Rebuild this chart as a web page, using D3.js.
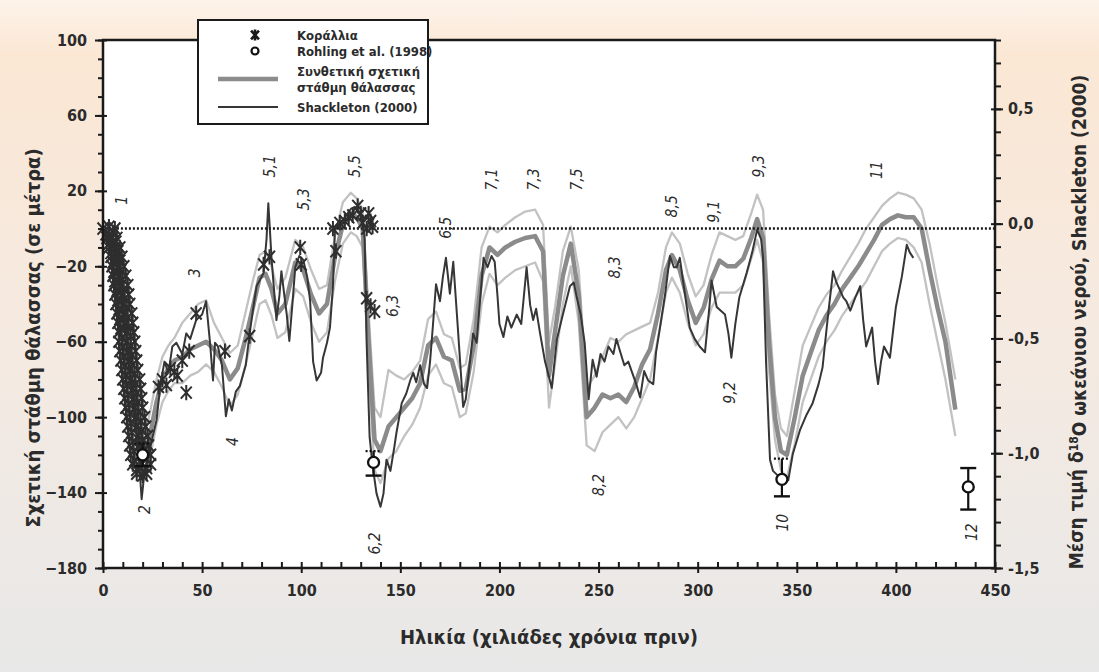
<!DOCTYPE html>
<html>
<head>
<meta charset="utf-8">
<script src="https://cdn.jsdelivr.net/npm/d3@7"></script>
<style>
  html, body { margin: 0; padding: 0; }
  body { width: 1099px; height: 672px; overflow: hidden; }
  text { font-family: "Liberation Sans Narrow", "DejaVu Sans Condensed", sans-serif; fill: #2b2b2b; }
</style>
</head>
<body>
<svg id="chart" width="1099" height="672"></svg>
<script>
// Synthetic relative sea level (m), with its upper / lower envelope
const synAge = [0, 3, 6, 9, 12, 15, 18, 20, 22, 24,
  27, 30, 33, 36, 40, 44, 48, 52, 56, 60,
  64, 68, 72, 76, 79, 82, 85, 88, 92, 97,
  101, 105, 109, 113, 117, 121, 125, 128, 131, 134,
  137, 140, 144, 148, 152, 156, 160, 164, 168, 172,
  176, 180, 183, 187, 191, 195, 199, 203, 208, 213,
  218, 222, 225, 228, 232, 236, 240, 244, 248, 252,
  256, 260, 264, 268, 272, 276, 280, 284, 287, 291,
  295, 299, 303, 307, 311, 315, 319, 323, 327, 330,
  333, 336, 339, 342, 345, 349, 353, 357, 361, 365,
  369, 373, 377, 381, 385, 389, 393, 397, 401, 405,
  409, 413, 417, 421, 425, 430];
const synMid = [0, -2, -10, -30, -58, -88, -112, -120, -118, -108,
  -92, -80, -74, -70, -68, -64, -62, -60, -64, -70,
  -80, -74, -58, -40, -26, -24, -32, -45, -40, -18,
  -22, -35, -45, -40, -15, 2, 8, 6, 0, -60,
  -112, -118, -105, -100, -95, -90, -82, -62, -58, -68,
  -70, -86, -85, -62, -25, -10, -14, -10, -7, -5,
  -4, -12, -78, -55, -25, -8, -35, -100, -95, -88,
  -90, -88, -92, -84, -72, -64, -45, -22, -14, -22,
  -38, -50, -42, -27, -17, -20, -20, -16, -5, 5,
  -5, -60, -100, -118, -120, -100, -78, -66, -54, -46,
  -40, -32, -26, -20, -13, -6, 2, 5, 7, 6,
  6, 0, -22, -42, -60, -96];
const synHi = [3, 2, -4, -22, -48, -78, -102, -108, -106, -96,
  -80, -68, -62, -58, -50, -45, -40, -38, -50, -58,
  -66, -62, -44, -26, -14, -12, -20, -32, -26, -6,
  -10, -22, -32, -30, -4, 14, 19, 16, 10, -45,
  -95, -100, -75, -78, -80, -76, -70, -48, -44, -56,
  -58, -74, -72, -48, -10, 1, -2, 2, 6, 9,
  10, 2, -60, -42, -12, 1, -22, -85, -78, -68,
  -58, -60, -56, -54, -52, -50, -34, -10, -2, -8,
  -24, -36, -30, -14, -2, -4, -6, -4, 8, 18,
  10, -45, -88, -106, -110, -86, -62, -52, -42, -35,
  -30, -22, -15, -8, 0, 6, 12, 16, 19, 18,
  16, 10, -8, -30, -50, -80];
const synLo = [-3, -6, -16, -38, -68, -98, -122, -130, -130, -120,
  -104, -92, -86, -82, -82, -78, -76, -72, -76, -84,
  -94, -88, -72, -54, -40, -38, -46, -58, -55, -32,
  -36, -50, -60, -55, -28, -8, -2, -4, -10, -75,
  -128, -135, -122, -118, -110, -104, -95, -78, -72, -82,
  -84, -100, -98, -76, -40, -24, -30, -26, -22, -20,
  -18, -28, -95, -72, -40, -20, -50, -115, -118, -108,
  -104, -100, -106, -100, -90, -80, -58, -34, -26, -34,
  -50, -62, -56, -42, -34, -34, -34, -30, -16, -6,
  -18, -75, -112, -128, -132, -114, -92, -80, -68, -60,
  -54, -46, -40, -34, -28, -20, -12, -8, -5, -6,
  -10, -18, -40, -60, -80, -110];

// Shackleton (2000): [age ka, mean ocean-water δ18O ‰]
const shackleton = [[0,-0.026],[2,-0.042],[5,-0.067],[8,-0.190],[10,-0.355],[12,-0.519],[14,-0.683],[16,-0.847],[18,-1.012],[19.5,-1.200],
  [21,-1.077],[23,-1.012],[25,-0.929],[27,-0.856],[29,-0.699],[31,-0.601],[33,-0.650],[35,-0.535],[37,-0.519],[40,-0.568],
  [42,-0.478],[44,-0.502],[47,-0.420],[50,-0.396],[52,-0.338],[54,-0.519],[55.5,-0.683],[56.5,-0.519],[58,-0.535],[60,-0.617],
  [62,-0.839],[63.5,-0.765],[65,-0.814],[67,-0.732],[69,-0.708],[72,-0.617],[74,-0.478],[76,-0.355],[77.5,-0.272],[79.5,-0.240],
  [81,-0.215],[82.5,-0.067],[83.4,0.089],[84.3,-0.042],[85,-0.149],[87.5,-0.420],[89,-0.313],[90,-0.207],[91.5,-0.313],[92.7,-0.396],
  [94,-0.511],[95.5,-0.355],[97,-0.190],[99,-0.141],[101,-0.157],[103,-0.231],[104.5,-0.338],[106,-0.601],[107.8,-0.683],[110,-0.650],
  [111,-0.584],[113,-0.519],[114.5,-0.453],[116,-0.272],[117,-0.026],[119,-0.010],[121,0.015],[123,0.040],[125,0.064],[127,0.073],
  [129,0.048],[131,0.015],[132,-0.067],[133,-0.519],[134.5,-0.929],[136,-1.053],[138,-1.176],[140,-1.233],[141.5,-1.176],[143,-1.028],
  [145,-1.077],[147,-0.971],[148,-0.913],[150.7,-0.782],[153,-0.740],[155,-0.683],[156.5,-0.650],[158,-0.691],[160,-0.617],[162,-0.699],
  [163.5,-0.716],[165,-0.601],[166.5,-0.437],[168,-0.264],[170,-0.338],[171.5,-0.231],[173,-0.149],[175,-0.305],[176.7,-0.166],[179,-0.453],
  [181.7,-0.798],[183,-0.765],[184.5,-0.650],[186.7,-0.478],[188.5,-0.519],[190,-0.355],[192,-0.149],[194,-0.190],[196,-0.141],[197.6,-0.166],
  [199,-0.313],[200,-0.437],[202,-0.494],[204,-0.404],[206,-0.453],[208.7,-0.396],[211,-0.437],[213.7,-0.190],[215.5,-0.355],[217,-0.420],
  [218.5,-0.371],[220.5,-0.478],[223,-0.601],[226.4,-0.716],[229,-0.502],[232,-0.396],[235.6,-0.272],[237.5,-0.256],[239,-0.322],[241,-0.396],
  [243,-0.519],[245,-0.765],[247,-0.593],[249,-0.667],[251,-0.568],[253,-0.601],[255,-0.535],[257.5,-0.568],[259,-0.502],[261,-0.560],
  [263,-0.617],[265,-0.601],[267,-0.650],[269,-0.699],[271,-0.757],[273,-0.642],[275,-0.683],[277.6,-0.699],[279,-0.560],[281,-0.453],
  [283.5,-0.313],[286,-0.141],[288,-0.190],[289.4,-0.190],[291,-0.149],[293,-0.272],[296,-0.453],[298.5,-0.502],[301,-0.535],[303.7,-0.560],
  [306,-0.355],[307,-0.248],[309.6,-0.363],[313.8,-0.396],[315.5,-0.478],[317,-0.584],[319,-0.437],[321,-0.322],[324.7,-0.215],[327.5,-0.125],
  [330,-0.026],[332,-0.067],[333,-0.149],[334.5,-0.601],[336.5,-1.028],[338,-1.077],[341,-1.102],[343,-1.118],[345.7,-1.118],[348,-1.003],
  [350,-0.946],[351.7,-0.897],[355,-0.831],[358,-0.782],[361,-0.699],[363,-0.626],[365.5,-0.420],[368.3,-0.207],[370,-0.256],[373.5,-0.322],
  [375,-0.338],[377,-0.379],[379.5,-0.322],[382,-0.272],[383.5,-0.420],[385,-0.535],[388,-0.453],[389.5,-0.601],[391,-0.699],[392.5,-0.601],
  [394,-0.535],[397,-0.584],[400,-0.363],[403,-0.231],[405.5,-0.092],[407,-0.125],[408.8,-0.149]];

// Coral dates: [age ka, level m]
const corals = [[0,0],[3,1],[6,0],[1.5,-3],[5,-2],[2,-5],[4.5,-5],[7,-5],[3,-8],[6.5,-7],
  [3,-10],[6,-10],[8.5,-10],[4,-13],[7.5,-12],[4,-15],[7,-15],[9.5,-15],[5,-18],[8.5,-17],
  [4.5,-20],[7.5,-20],[10.5,-20],[5.5,-23],[9,-22],[5,-25],[8,-25],[11.5,-25],[6,-28],[10,-27],
  [5.5,-30],[9,-30],[12.5,-30],[7,-33],[10.5,-32],[6,-35],[9.5,-35],[13,-35],[7.5,-38],[11,-37],
  [6.5,-40],[10,-40],[13.5,-40],[8,-43],[12,-42],[7,-45],[10.5,-45],[14.5,-45],[8.5,-48],[12.5,-47],
  [7.5,-50],[11,-50],[15,-50],[9,-53],[13,-52],[8,-55],[12,-55],[15.5,-55],[9.5,-58],[14,-57],
  [8,-60],[12,-60],[16,-60],[10,-63],[14,-62],[8.5,-65],[12.5,-65],[16.5,-65],[10.5,-68],[14.5,-67],
  [9,-70],[13,-70],[17,-70],[11,-73],[15,-72],[9.5,-75],[13.5,-75],[17.5,-75],[11.5,-78],[16,-77],
  [10,-80],[14,-80],[18.5,-80],[12,-83],[16.5,-82],[10.5,-85],[15,-85],[19,-85],[12.5,-88],[17,-87],
  [11,-90],[15.5,-90],[19.5,-90],[13,-93],[17.5,-92],[11.5,-95],[16,-95],[20,-95],[13.5,-98],[18,-97],
  [12,-100],[16.5,-100],[21,-100],[14,-103],[19,-102],[12.5,-105],[17,-105],[21.5,-105],[14.5,-108],[19.5,-107],
  [13,-110],[18,-110],[22.5,-110],[15,-113],[20,-112],[13.5,-115],[18.5,-115],[23,-115],[15.5,-118],[21,-117],
  [14,-120],[19,-120],[24,-120],[16,-123],[22,-122],[15,-125],[19.5,-125],[24,-125],[17,-128],[22,-127],
  [17,-130],[20,-131],[22,-130],
  [28,-84],[30,-80],[32,-83],[34,-74],[36,-76],[37.5,-78],[40,-70],[42,-87],[43.5,-65],[47,-45],
  [61.5,-65],[74,-57],[81,-19],[84,-15],[99.5,-10],[100,-19],[116,0],[117.5,-12],[119.5,3],[122,4],
  [124,6],[126,7],[128.5,12],[130,8],[131,3],[133,0],[134,8],[135,4],[136,1],[133,-37],[135,-41],[137,-44]];

// Rohling et al. (1998) lowstands with error bars
const rohlingAge = [20, 136.5, 342.5, 436.5];
const rohlingLevel = [-120, -124, -133, -137];
const rohlingLow = [-126, -131, -142, -149];
const rohlingHigh = [-114, -118, -122, -127];

// Marine isotope stage annotations
const stageText = ["1", "2", "3", "4", "5,1", "5,3", "5,5", "6,2", "6,3", "6,5", "7,1", "7,3", "7,5",
  "8,2", "8,3", "8,5", "9,1", "9,2", "9,3", "10", "11", "12"];
const stageAge = [9.4, 21, 46.4, 65.6, 84, 101, 127, 137, 146, 172.6, 196, 217, 239,
  250, 258, 287, 308, 316, 330.6, 343, 390, 438];
const stageLevel = [15, -149, -23.5, -113, 33, 15.4, 33, -167, -41, 0.5, 26, 26, 26,
  -136, -20.6, 11.8, 9, -87, 33, -156, 31, -161];

const leftTicks = [100, 60, 20, -20, -60, -100, -140, -180];
const rightTicks = [0.5, 0, -0.5, -1, -1.5];
const ageTicks = d3.range(0, 451, 50);

const width = 1099, height = 672;
const margin = { top: 40, right: 104, bottom: 104, left: 103 };

const svg = d3.select("#chart");

const x = d3.scaleLinear().domain([0, 450]).range([margin.left, width - margin.right]);
const y = d3.scaleLinear().domain([-180, 100]).range([height - margin.bottom, margin.top]);
const y2 = d3.scaleLinear().domain([-1.5, 0.8]).range([height - margin.bottom, margin.top]);

// background
const defs = svg.append("defs");
const grad = defs.append("linearGradient").attr("id", "bg").attr("x1", 0).attr("y1", 0).attr("x2", 0).attr("y2", 1);
grad.append("stop").attr("offset", "0%").attr("stop-color", "#fdf3ea");
grad.append("stop").attr("offset", "8%").attr("stop-color", "#fbe7d4");
grad.append("stop").attr("offset", "50%").attr("stop-color", "#f5eae1");
grad.append("stop").attr("offset", "100%").attr("stop-color", "#e8e8e8");
svg.append("rect").attr("width", width).attr("height", height).attr("fill", "url(#bg)");

svg.append("rect")
  .attr("x", x(0)).attr("y", y(100))
  .attr("width", x(450) - x(0)).attr("height", y(-180) - y(100))
  .attr("fill", "#ffffff");

// lines
const line = d3.line().x(d => x(d[0])).y(d => y(d[1]));
const lineR = d3.line().x(d => x(d[0])).y(d => y2(d[1]));

const plot = svg.append("g");
[synHi, synLo].forEach(arr => {
  plot.append("path")
    .datum(synAge.map((a, i) => [a, arr[i]]))
    .attr("fill", "none").attr("stroke", "#c2c2c2").attr("stroke-width", 2.3)
    .attr("stroke-linejoin", "round")
    .attr("d", line);
});
plot.append("path")
  .datum(synAge.map((a, i) => [a, synMid[i]]))
  .attr("fill", "none").attr("stroke", "#8b8b8b").attr("stroke-width", 4.5)
  .attr("stroke-linejoin", "round")
  .attr("d", line);
plot.append("path")
  .datum(shackleton)
  .attr("fill", "none").attr("stroke", "#363636").attr("stroke-width", 2)
  .attr("stroke-linejoin", "round")
  .attr("d", lineR);

// zero line
plot.append("line")
  .attr("x1", x(5)).attr("x2", x(450))
  .attr("y1", y(0)).attr("y2", y(0))
  .attr("stroke", "#1a1a1a").attr("stroke-width", 2.5)
  .attr("stroke-dasharray", "2,2");

// coral asterisk: vertical bar with a cross
const asterisk = {
  draw(ctx, size) {
    const r = Math.sqrt(size) / 2;
    const a = r * 0.72;
    ctx.moveTo(0, -r); ctx.lineTo(0, r);
    ctx.moveTo(-a, -r * 0.8); ctx.lineTo(a, r * 0.8);
    ctx.moveTo(-a, r * 0.8); ctx.lineTo(a, -r * 0.8);
  }
};
const star = d3.symbol().type(asterisk).size(230);

plot.selectAll(".coral")
  .data(corals)
  .enter().append("path")
  .attr("class", "coral")
  .attr("transform", d => "translate(" + x(d[0]) + "," + y(d[1]) + ")")
  .attr("d", star)
  .attr("fill", "none").attr("stroke", "#2e2e2e").attr("stroke-width", 2);

// Rohling points
const rg = plot.selectAll(".rohling")
  .data(rohlingAge)
  .enter().append("g")
  .attr("class", "rohling");
rg.append("line")
  .attr("x1", d => x(d)).attr("x2", d => x(d))
  .attr("y1", (d, i) => y(rohlingLow[i])).attr("y2", (d, i) => y(rohlingHigh[i]))
  .attr("stroke", "#111").attr("stroke-width", 2.2);
rg.append("line")
  .attr("x1", d => x(d) - 8).attr("x2", d => x(d) + 8)
  .attr("y1", (d, i) => y(rohlingLow[i])).attr("y2", (d, i) => y(rohlingLow[i]))
  .attr("stroke", "#111").attr("stroke-width", 2.4);
rg.append("line")
  .attr("x1", d => x(d) - 8).attr("x2", d => x(d) + 8)
  .attr("y1", (d, i) => y(rohlingHigh[i])).attr("y2", (d, i) => y(rohlingHigh[i]))
  .attr("stroke", "#111").attr("stroke-width", 2.4)
  .attr("stroke-dasharray", (d, i) => i === 3 ? null : "2,2");
rg.append("circle")
  .attr("cx", d => x(d)).attr("cy", (d, i) => y(rohlingLevel[i]))
  .attr("r", 5.5)
  .attr("fill", "#fff").attr("stroke", "#111").attr("stroke-width", 2.3);

// stage labels
svg.selectAll(".stage")
  .data(stageText)
  .enter().append("text")
  .attr("class", "stage")
  .attr("transform", (d, i) => "translate(" + x(stageAge[i]) + "," + y(stageLevel[i]) + ")rotate(-90)")
  .attr("text-anchor", "middle").attr("dy", "0.35em")
  .style("font-size", "15.5px").style("font-style", "italic")
  .style("font-family", "'DejaVu Sans Condensed', sans-serif")
  .text(d => d);

// frame
svg.append("rect")
  .attr("x", x(0)).attr("y", y(100))
  .attr("width", x(450) - x(0)).attr("height", y(-180) - y(100))
  .attr("fill", "none").attr("stroke", "#1a1a1a").attr("stroke-width", 2.5);

// axes
function styleAxis(g) {
  g.select(".domain").remove();
  g.selectAll(".tick line").attr("stroke", "#1a1a1a").attr("stroke-width", 2);
  g.selectAll(".tick text").style("font-size", "16px").style("font-weight", "bold").attr("fill", "#2b2b2b");
}
const fmtComma = d => (d < 0 ? "-" : "") + Math.abs(d).toFixed(1).replace(".", ",");

svg.append("g").attr("transform", "translate(" + x(0) + ",0)")
  .call(d3.axisLeft(y).tickValues(d3.range(-180, 101, 10)).tickSize(5).tickFormat(""))
  .call(styleAxis);
svg.append("g").attr("transform", "translate(" + x(0) + ",0)")
  .call(d3.axisLeft(y).tickValues(leftTicks).tickSize(8).tickPadding(8))
  .call(styleAxis);
svg.append("g").attr("transform", "translate(" + x(0) + ",0)")
  .call(d3.axisRight(y).tickValues(leftTicks).tickSize(4).tickFormat(""))
  .call(styleAxis);

svg.append("g").attr("transform", "translate(" + x(450) + ",0)")
  .call(d3.axisRight(y2).tickValues(d3.range(-15, 9).map(i => i / 10)).tickSize(6).tickFormat(""))
  .call(styleAxis);
svg.append("g").attr("transform", "translate(" + x(450) + ",0)")
  .call(d3.axisRight(y2).tickValues(rightTicks).tickSize(8).tickPadding(5).tickFormat(fmtComma))
  .call(styleAxis);
svg.append("g").attr("transform", "translate(" + x(450) + ",0)")
  .call(d3.axisLeft(y2).tickValues(rightTicks).tickSize(4).tickFormat(""))
  .call(styleAxis);

svg.append("g").attr("transform", "translate(0," + y(-180) + ")")
  .call(d3.axisTop(x).tickValues(d3.range(0, 451, 10)).tickSize(6).tickFormat(""))
  .call(styleAxis);
svg.append("g").attr("transform", "translate(0," + y(-180) + ")")
  .call(d3.axisBottom(x).tickValues(ageTicks).tickSize(5).tickPadding(12))
  .call(styleAxis);

// axis titles
svg.append("text")
  .attr("x", (x(0) + x(450)) / 2).attr("y", 644)
  .attr("text-anchor", "middle")
  .style("font-size", "20px").style("font-weight", "bold")
  .text("Ηλικία (χιλιάδες χρόνια πριν)");
svg.append("text")
  .attr("transform", "translate(40,338)rotate(-90)")
  .attr("text-anchor", "middle")
  .style("font-size", "20px").style("font-weight", "bold")
  .text("Σχετική στάθμη θάλασσας (σε μέτρα)");
const rt = svg.append("text")
  .attr("transform", "translate(1083,322)rotate(-90)")
  .attr("text-anchor", "middle")
  .style("font-size", "19px").style("font-weight", "bold");
rt.append("tspan").text("Μέση τιμή δ");
rt.append("tspan").attr("dy", "-0.45em").style("font-size", "12px").text("18");
rt.append("tspan").attr("dy", "0.45em").text("Ο ωκεάνιου νερού, Shackleton (2000)");

// legend
const legend = svg.append("g");
legend.append("rect")
  .attr("x", 198).attr("y", 20).attr("width", 230).attr("height", 104)
  .attr("fill", "#fff").attr("stroke", "#1a1a1a").attr("stroke-width", 2);
legend.append("path")
  .attr("transform", "translate(255,35)")
  .attr("d", d3.symbol().type(asterisk).size(120))
  .attr("fill", "none").attr("stroke", "#1a1a1a").attr("stroke-width", 2.6);
legend.append("circle").attr("cx", 255).attr("cy", 51).attr("r", 3.5)
  .attr("fill", "#fff").attr("stroke", "#111").attr("stroke-width", 2.2);
legend.append("line").attr("x1", 218).attr("x2", 278).attr("y1", 79).attr("y2", 79)
  .attr("stroke", "#8b8b8b").attr("stroke-width", 4.5);
legend.append("line").attr("x1", 218).attr("x2", 278).attr("y1", 107).attr("y2", 107)
  .attr("stroke", "#363636").attr("stroke-width", 2);
const legendText = [["Κοράλλια", 35], ["Rohling et al. (1998)", 51], ["Συνθετική σχετική", 71],
  ["στάθμη θάλασσας", 87], ["Shackleton (2000)", 107]];
legend.selectAll(".ltext")
  .data(legendText)
  .enter().append("text")
  .attr("x", 297).attr("y", d => d[1]).attr("dy", "0.35em")
  .style("font-size", "13px").style("font-weight", "bold")
  .text(d => d[0]);
</script>
</body>
</html>
